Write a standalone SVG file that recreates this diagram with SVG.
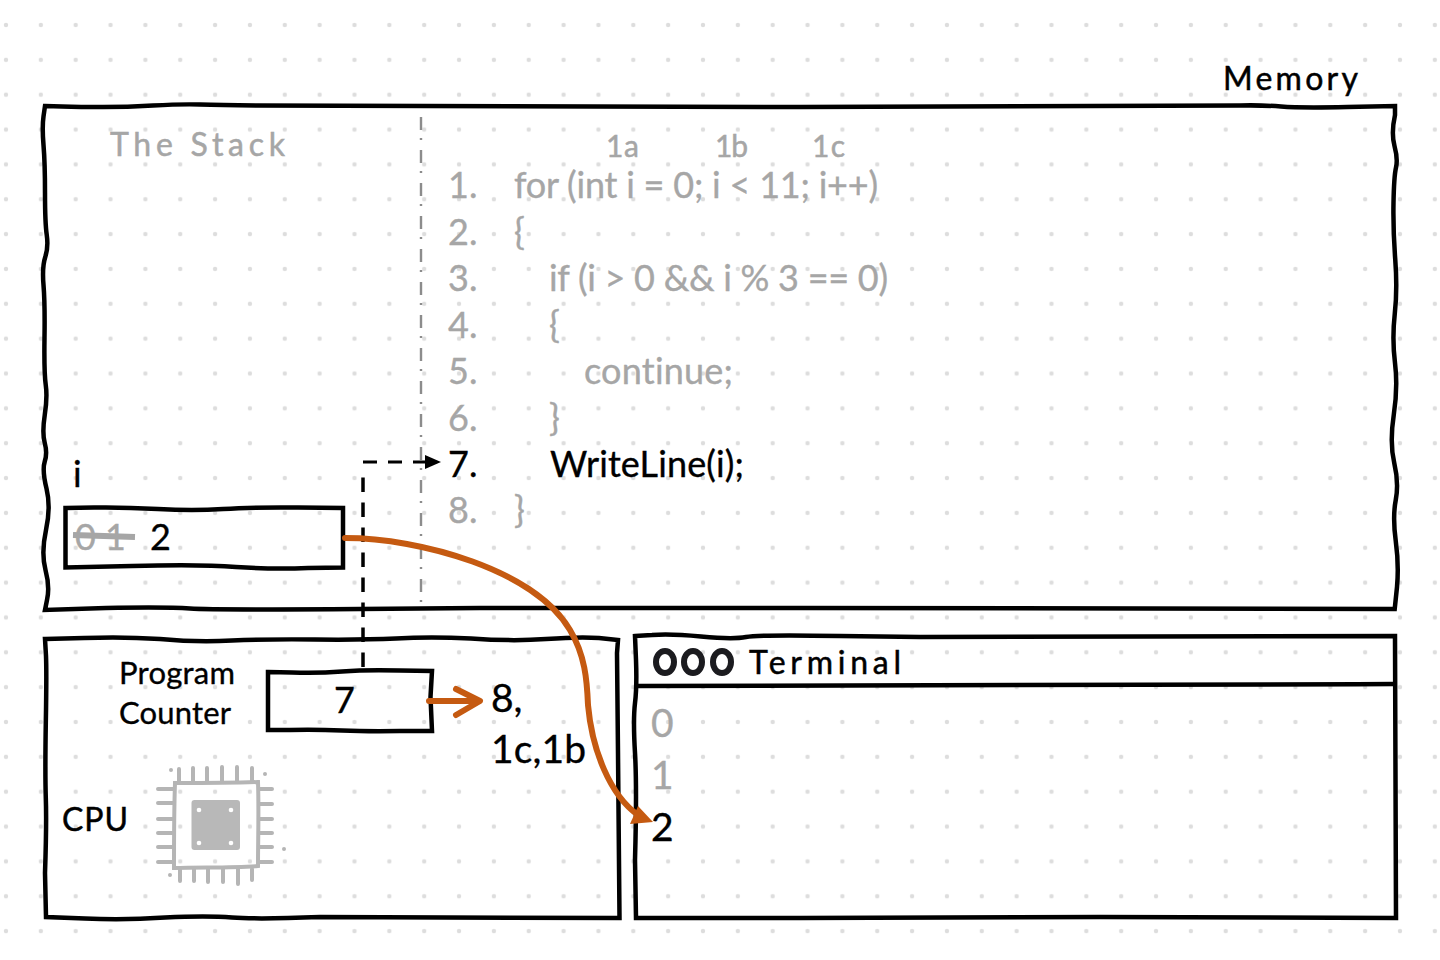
<svg xmlns="http://www.w3.org/2000/svg" width="1440" height="960" viewBox="0 0 1440 960">
<style>
.box{fill:none;stroke:#000;stroke-width:4.5;stroke-linejoin:miter}
text{font-variant-ligatures:none}
.t{font-family:"Lato","Open Sans",sans-serif;font-size:36px;fill:#000;stroke:#000;stroke-width:.35}
.h{font-family:"Lato","Noto Sans",sans-serif;font-size:32px;fill:#000;stroke:#000;stroke-width:.5}
.t.g,.h.g{fill:#a6a6a6;stroke:#a6a6a6}
.o{fill:none;stroke:#c55a11;stroke-width:6;stroke-linecap:round;stroke-linejoin:round}
.chip{fill:none;stroke:#b5b5b5;stroke-width:4;stroke-linecap:round}
</style>
<defs>
<pattern id="dots" x="6" y="25" width="34.85" height="34.85" patternUnits="userSpaceOnUse">
<circle cx="0" cy="0" r="2.2" fill="#ddd"/><circle cx="34.85" cy="0" r="2.2" fill="#ddd"/><circle cx="0" cy="34.85" r="2.2" fill="#ddd"/><circle cx="34.85" cy="34.85" r="2.2" fill="#ddd"/>
</pattern>
</defs>
<rect width="1440" height="960" fill="#fff"/>
<rect width="1440" height="960" fill="url(#dots)"/>

<g id="memory">
<path class="box" d="M45 106L62 106.500Q80 107 103 107Q127 107 153 105.500Q180 104 200 104.500Q220 105 258 105.500L800 107L1240 105.500Q1262 105 1281 106.500Q1300 108 1347 107L1395 106L1395 115Q1391 133 1394.500 146Q1398 159 1396 167.500Q1394 176 1393.500 203Q1393 230 1395.250 259.500Q1397.500 289 1394.750 314Q1392 339 1395 363Q1398 387 1393.750 415Q1389.500 443 1394.250 463Q1399 483 1395.750 500Q1392.500 517 1395.750 541Q1399 565 1397 587L1394.700 609L800 608L480 608L360 609Q213 610 190 608.500Q167 607 106 608L45 610L47 600Q50 587 45.500 570Q41 553 46 530Q51 507 46.500 488.500Q42 470 44.750 461.500Q47.500 453 44.750 443Q42 433 44.750 415Q47.500 397 45.750 385Q44 373 44.500 338Q45 303 43.500 285Q42 267 45.250 257Q48.500 247 46.750 235Q45 223 45 193Q45 163 43.500 145Q42 127 43.500 116.500Z"/>
<text class="h g" x="110" y="156" textLength="175">The Stack</text>
<text class="h" x="1223" y="90" textLength="135">Memory</text>
</g>

<g id="code">
<path d="M421 604V112" fill="none" stroke="#8c8c8c" stroke-width="2.4" stroke-dasharray="2 8 13 10" stroke-dashoffset="-2"/>
<text class="h g" x="606" y="157" style="font-size:30px" textLength="33">1a</text>
<text class="h g" x="715" y="157" style="font-size:30px" textLength="33">1b</text>
<text class="h g" x="812" y="157" style="font-size:30px" textLength="33">1c</text>
<text class="t g" x="448" y="198">1.</text><text class="t g" x="514" y="198" textLength="364">for (int i = 0; i &lt; 11; i++)</text>
<text class="t g" x="448" y="245">2.</text><text class="t g" x="514" y="245">{</text>
<text class="t g" x="448" y="291">3.</text><text class="t g" x="549" y="291" textLength="339">if (i &gt; 0 &amp;&amp; i % 3 == 0)</text>
<text class="t g" x="448" y="338">4.</text><text class="t g" x="549" y="338">{</text>
<text class="t g" x="448" y="384">5.</text><text class="t g" x="584" y="384" textLength="149">continue;</text>
<text class="t g" x="448" y="431">6.</text><text class="t g" x="549" y="431">}</text>
<text class="t g" x="448" y="523">8.</text><text class="t g" x="514" y="523">}</text>
<text class="t" x="448" y="477">7.</text><text class="t" x="550" y="477" textLength="194">WriteLine(i);</text>
</g>

<g id="var-i">
<text class="t" x="73" y="487">i</text>
<path class="box" d="M65.500 508L94 507.500Q123 507 158 509Q193 511 223 509Q253 507 298 507.500L343 508V567.500L308 568Q273 569.500 236 567Q200 564 132 566L65.500 567.500Z"/>
<text class="t g" x="75" y="550">0 1</text>
<path d="M73 535L135 537" stroke="#a6a6a6" stroke-width="6" fill="none"/>
<text class="t" x="150" y="550">2</text>
</g>

<g id="cpu">
<path class="box" d="M45 639L84 638Q123 636.500 160 639Q197 642.500 232 640.500Q267 639 315 639.500Q363 640 396 638.500Q430 636.500 471 638.500Q513 641.500 546 639Q580 636.500 599 638L618 640L617 653L618 753L619.500 918L320 917Q257 919.500 232 917.500Q207 915.500 165 917.500Q123 920.500 85 918.500L46 917L45 873Q46.700 823 45.800 798Q45 773 45.800 723Q46.700 673 46 656Z"/>
<text class="t" x="119" y="684" style="font-size:31px" textLength="116">Program</text>
<text class="t" x="119" y="724" style="font-size:31px" textLength="112">Counter</text>
<text class="h" x="62" y="831" textLength="66">CPU</text>
</g>

<g id="program-counter">
<path class="box" d="M268 672L292 672.500Q317 673.500 342 671.500Q367 669.500 400 670.500L432 671L430.500 697L432 731L400 731Q367 731.500 342 730.500Q317 729.500 290 730L268 730Z"/>
<text class="t" x="334" y="713">7</text>
<text class="t" x="491" y="712" style="font-size:39px">8,</text>
<text class="t" x="491" y="763" style="font-size:39px" textLength="95">1c,1b</text>
</g>

<g id="chip">
<path class="chip" d="M175 783C200 783 230 783 258 782C259 810 258 840 258 866C230 868 200 867 174 868C174 840 174 810 175 783Z"/>
<rect x="191.500" y="800" width="48.500" height="50" rx="3" fill="#b8b8b8"/>
<g fill="#fff"><circle cx="199" cy="810" r="2.3"/><circle cx="231" cy="810" r="2.3"/><circle cx="199" cy="843" r="2.3"/><circle cx="231" cy="843" r="2.3"/></g>
<path class="chip" d="M179 769V782M193 768V782M207 768V782M222 767V782M237 767V782M252 768V782M158 789H173M158 803H173M158 819H173M158 833H173M158 847H173M158 862H173M260 789H272M260 804H272M260 819H272M260 833H272M260 847H272M260 862H272M180 869V881M194 869V881M208 869V882M223 869V882M238 869V884M252 869V880"/>
<g fill="#b5b5b5"><circle cx="171" cy="770" r="2"/><circle cx="265" cy="774" r="2"/><circle cx="284" cy="849" r="2"/><circle cx="170" cy="875" r="2"/></g>
</g>

<g id="terminal">
<path class="box" d="M635 636L652 635Q670 633.500 701 636.500Q733 639.500 746 637Q760 634.500 840 636L920 637L1395 636L1396 918L1100 917L800 918L636 918L635 860Q637 787 635 753Q633 720 635 703Q637 687 636 660Z"/>
<path class="box" d="M636 686C800 684 1100 686 1394 684"/>
<g fill="none" stroke="#1b1b1f" stroke-width="6"><ellipse cx="665" cy="662" rx="9" ry="11"/><ellipse cx="693" cy="662" rx="9" ry="11"/><ellipse cx="722" cy="662" rx="9" ry="11"/></g>
<text class="h" x="749" y="674" textLength="152">Terminal</text>
<text class="t g" x="651" y="737" style="font-size:39px">0</text>
<text class="t g" x="651" y="789" style="font-size:39px">1</text>
<text class="t" x="651" y="841" style="font-size:39px">2</text>
</g>

<g id="connectors">
<path d="M363 667V470" fill="none" stroke="#000" stroke-width="3.500" stroke-dasharray="14.500 10.500"/>
<path d="M363 462H428" fill="none" stroke="#000" stroke-width="3" stroke-dasharray="14 11"/>
<path d="M425 455L441 462L425 469Z" fill="#000"/>
<path class="o" d="M345 538C420 538 535 570 570 630C585 655 587 680 588 705C592 750 610 795 638 815"/>
<path d="M653 822L630 824L638 806Z" fill="#c55a11"/>
<path class="o" d="M429 701H478M456 689L480 701L456 715"/>
</g>
</svg>
